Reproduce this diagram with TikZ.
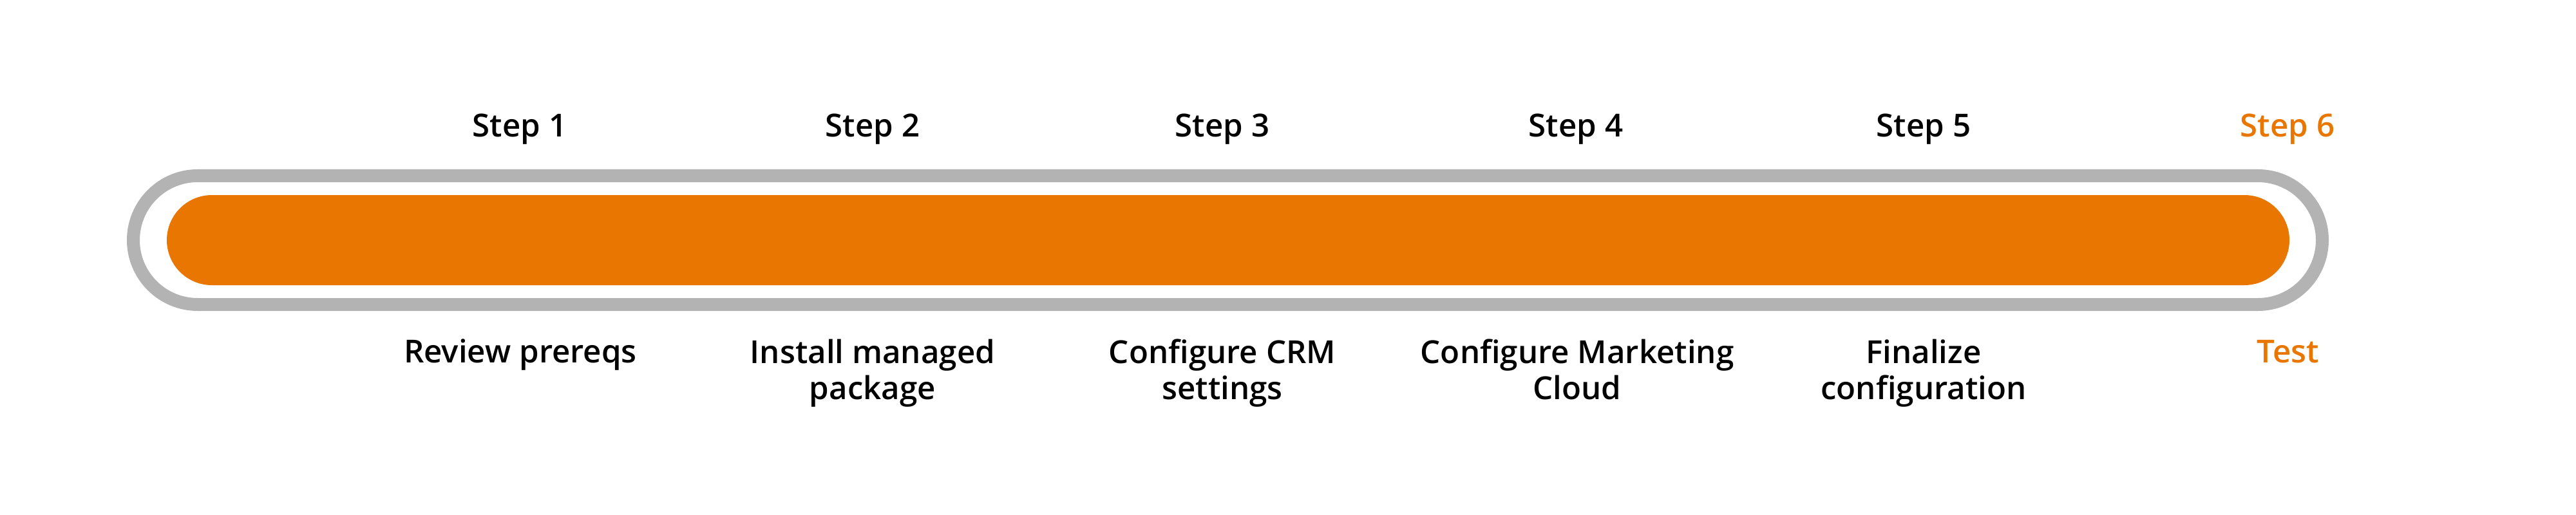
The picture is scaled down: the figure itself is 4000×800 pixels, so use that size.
\documentclass[tikz,border=0pt]{standalone}
\usepackage{fontspec}
\IfFontExistsTF{Open Sans Semibold}{\setmainfont{Open Sans}[BoldFont={Open Sans Semibold}]}{\setmainfont{Open Sans}}
\definecolor{sforange}{RGB}{233,118,0}
\definecolor{sfgray}{RGB}{179,179,179}
\tikzset{
  steplabel/.style={font=\fontsize{14pt}{15.8pt}\selectfont\bfseries, text=black, anchor=base, align=center, inner sep=0pt},
  desclabel/.style={font=\fontsize{14pt}{15.8pt}\selectfont\bfseries, text=black, anchor=base, align=center, inner sep=0pt},
  activelabel/.style={text=sforange},
}
\begin{document}
\begin{tikzpicture}[x=0.01cm,y=-0.01cm]
\useasboundingbox (0,0) rectangle (4000,800);
% outer gray capsule
\draw[sfgray, line width=0.2cm, rounded corners=1cm] (207,273) rectangle (3606,473);
% orange bar
\fill[sforange, rounded corners=0.7cm] (259,303) rectangle (3555,443);
% step labels
\node[steplabel] (s1) at (807,212) {Step 1};
\node[steplabel] (s2) at (1355,212) {Step 2};
\node[steplabel] (s3) at (1898,212) {Step 3};
\node[steplabel] (s4) at (2447,212) {Step 4};
\node[steplabel] (s5) at (2987,212) {Step 5};
\node[steplabel, activelabel] (s6) at (3552,212) {Step 6};
% descriptions (base anchor = baseline of last line)
\node[desclabel] (d1) at (808,563) {Review prereqs};
\node[desclabel] (d2) at (1355,620) {Install managed\\package};
\node[desclabel] (d3) at (1898,620) {Configure CRM\\settings};
\node[desclabel] (d4) at (2449,620) {Configure Marketing\\Cloud};
\node[desclabel] (d5) at (2987,620) {Finalize\\configuration};
\node[desclabel, activelabel] (d6) at (3553,563) {Test};
\end{tikzpicture}
\end{document}
